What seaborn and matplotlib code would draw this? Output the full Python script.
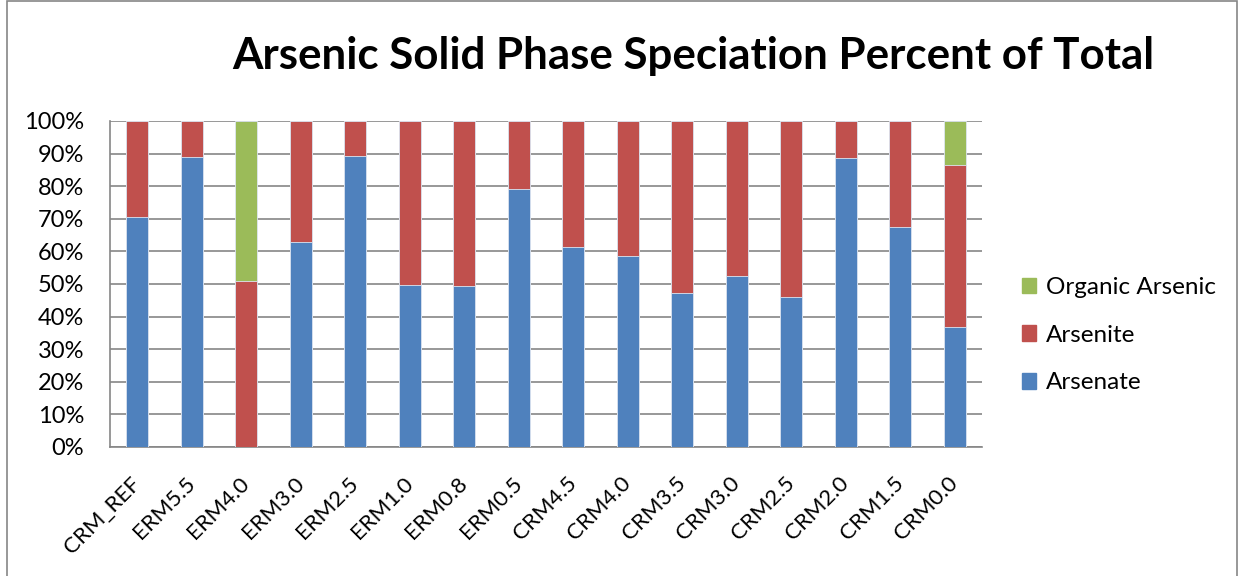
import matplotlib
matplotlib.use("Agg")
import matplotlib.pyplot as plt
import matplotlib.patches as mpatches
from matplotlib.ticker import FuncFormatter, MultipleLocator
import numpy as np
import pandas as pd
import seaborn as sns

samples = ["CRM_REF", "ERM5.5", "ERM4.0", "ERM3.0", "ERM2.5", "ERM1.0", "ERM0.8",
           "ERM0.5", "CRM4.5", "CRM4.0", "CRM3.5", "CRM3.0", "CRM2.5", "CRM2.0",
           "CRM1.5", "CRM0.0"]
arsenate = [70.6, 88.9, 0.0, 62.8, 89.3, 49.7, 49.5, 79.1, 61.3, 58.6, 47.3, 52.4,
            46.1, 88.6, 67.4, 36.8]
arsenite = [29.4, 11.1, 50.8, 37.2, 10.7, 50.3, 50.5, 20.9, 38.7, 41.4, 52.7, 47.6,
            53.9, 11.4, 32.6, 49.7]
organic = [0.0, 0.0, 49.2, 0.0, 0.0, 0.0, 0.0, 0.0, 0.0, 0.0, 0.0, 0.0,
           0.0, 0.0, 0.0, 13.5]
series_names = ["Organic Arsenic", "Arsenite", "Arsenate"]
series_colors = ["#9BBB59", "#C0504D", "#4F81BD"]

df = pd.DataFrame({"sample": samples, "arsenate": arsenate,
                   "arsenite": arsenite, "organic": organic})
df["lvl_arsenate"] = df["arsenate"]
df["lvl_arsenite"] = df["arsenate"] + df["arsenite"]
df["lvl_organic"] = df["lvl_arsenite"] + df["organic"]

sns.set_style("white")
plt.rcParams["font.family"] = ["Lato", "DejaVu Sans"]
plt.rcParams["text.color"] = "black"
plt.rcParams["xtick.color"] = "black"
plt.rcParams["ytick.color"] = "black"

fig = plt.figure(figsize=(12.41, 5.76), dpi=100)
ax = fig.add_axes([0.0886, 0.224, 0.7027, 0.566])

# stacked bars: draw cumulative totals from the top layer down
for col, color in zip(["lvl_organic", "lvl_arsenite", "lvl_arsenate"], series_colors):
    sns.barplot(data=df, x="sample", y=col, color=color, width=0.4,
                saturation=1, edgecolor="#dde6f2", linewidth=0.6, ax=ax, zorder=3)

ax.set_ylim(0, 100)
ax.set_xlim(-0.5, len(samples) - 0.5)
ax.yaxis.set_major_locator(MultipleLocator(10))
ax.yaxis.set_major_formatter(FuncFormatter(lambda v, p: f"{v:.0f}%"))
ax.grid(axis="y", color="#868686", linewidth=1.2, zorder=0)
ax.set_axisbelow(True)
ax.set_xlabel("")
ax.set_ylabel("")

for side in ["top", "right"]:
    ax.spines[side].set_visible(False)
for side in ["left", "bottom"]:
    ax.spines[side].set_color("#868686")
    ax.spines[side].set_linewidth(1.2)

ax.tick_params(axis="y", labelsize=17, length=0, pad=18.5)
ax.tick_params(axis="x", labelsize=16, length=0, pad=24)
ax.set_xticks(range(len(samples)))
ax.set_xticklabels(samples, rotation=45, ha="right", va="center",
                   rotation_mode="anchor")

handles = [mpatches.Patch(color=c, label=n) for n, c in zip(series_names, series_colors)]
fig.legend(handles=handles, loc="center left", bbox_to_anchor=(0.8135, 0.418),
           frameon=False, fontsize=17.5, handlelength=0.6, handleheight=0.6,
           handletextpad=0.4, labelspacing=1.1, borderpad=0)

fig.text(0.559, 0.902, "Arsenic Solid Phase Speciation Percent of Total",
         ha="center", va="center", fontsize=31.6, fontweight="bold")

# outer chart border
fig.patches.append(mpatches.Rectangle((0.006, -0.01), 0.991, 1.008,
                                      transform=fig.transFigure, fill=False,
                                      edgecolor="#868686", linewidth=1.2))

fig.savefig("out.png", dpi=100)
